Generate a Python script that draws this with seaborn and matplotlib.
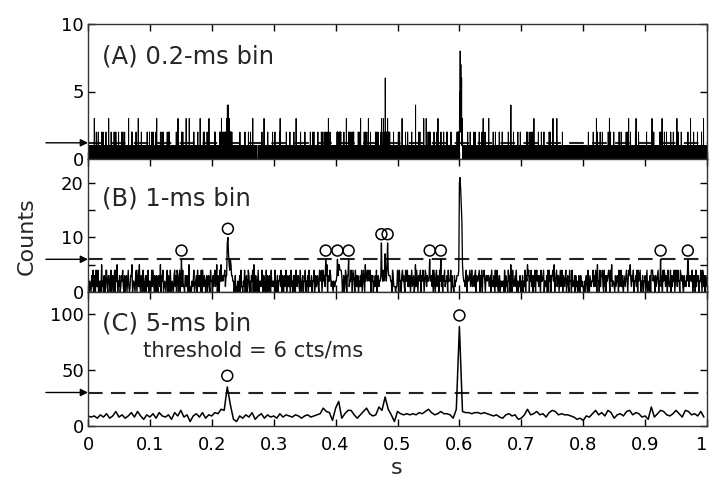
import numpy as np
import pandas as pd
import matplotlib
matplotlib.use("Agg")
import matplotlib.pyplot as plt
import seaborn as sns

# Photon counts of one 1-s trace in 0.2-ms bins; each string holds 20 ms (100 bins)
COUNTS_02MS = [
    "11021 00100 00000 01010 00001 00000 10110 01000 11011 00000 03000 00100 00000 10210 01000 10000 01120 00000 10001 00000",
    "01010 00000 12011 00010 00200 00000 10110 00100 00000 20101 11011 00010 00000 00300 10101 01000 00000 10210 00000 10010",
    "10110 00000 02000 01111 00000 21010 01100 11111 00000 00200 00100 01011 00000 10000 00210 10010 10210 00001 00000 12000",
    "00000 01100 10101 00000 00011 10030 01000 00000 00010 11010 00210 20111 00000 10010 01100 00001 00000 01020 11011 00000",
    "10010 13000 00100 11111 01000 00000 12000 00011 00000 11011 01000 00000 10010 10101 00000 01020 10000 10111 00000 00200",
    "10001 00000 00100 02110 00010 11200 01010 00000 10110 20000 00000 30000 01000 00000 10101 10101 00010 21101 00000 01020",
    "01100 10210 00000 00001 10010 00100 00000 10110 20101 00000 12000 00200 00000 01111 00010 00000 10001 01000 00000 01011",
    "11011 00010 01020 00000 10210 00300 00000 10010 11011 00000 10001 12111 00100 02011 00010 01000 00000 10101 00030 00100",
    "10110 01000 00000 11030 00001 00000 00100 00000 10010 01000 01010 21010 00000 00100 10001 10110 00000 11200 00010 01011",
    "00100 03000 00000 10111 00000 11011 00200 01000 12000 10010 00000 10010 00210 00000 01100 00300 01000 00000 11011 10010",
    "10010 00000 10110 00100 01020 10210 00010 01100 11111 00000 01011 10010 00000 20101 00200 11030 01100 20100 00200 10011",
    "10110 02020 00100 01200 30000 24120 32401 13210 20300 10120 21201 11210 10200 01110 10010 01010 00000 00100 10101 00000",
    "10000 00000 01010 00000 00001 00210 00000 11011 00100 01000 00000 10010 00100 01120 00000 10010 01011 00000 00100 12010",
    "10101 00000 00020 00000 11010 01100 13000 00000 11111 00100 00000 10110 01000 00000 00011 11011 00000 10010 00100 01100",
    "01000 21010 10101 00000 00300 10010 00000 00100 01111 00000 10200 01100 00000 10110 00011 00000 11011 00010 02000 10000",
    "10010 00100 20101 00000 01010 00000 10101 00000 01100 00020 00300 01000 11011 00000 10110 01010 00000 11010 00100 10001",
    "10210 00000 01100 01011 00010 00100 12000 00000 11011 01000 10001 00000 01020 00000 10110 00000 03010 10010 00100 01011",
    "11010 00010 00000 10210 01000 00000 01100 10101 00000 10010 00200 11011 00000 10010 00100 10110 00000 11110 00001 02000",
    "01000 10101 00000 00200 10010 20101 00000 00100 01011 10000 01010 10200 00010 00000 11011 10011 01100 21010 00000 00200",
    "11011 01001 00210 10000 12111 11010 10211 00000 00300 10010 01100 20101 10110 00010 10001 10000 00000 01010 00100 00001",
    "10010 01100 10200 21201 01110 11210 21011 10120 01201 11011 10110 00000 01000 10200 00000 01000 11011 00300 00000 10101",
    "10101 21120 00100 00200 10001 11011 01200 00000 10210 12000 01010 00000 11011 00100 10110 00100 10020 00000 02000 01000",
    "00300 10000 11011 00000 00110 11011 02000 00000 12011 10100 10200 11011 01100 30010 10011 01010 10210 00000 10110 01100",
    "10110 00000 01010 00100 00210 01000 12010 00000 00020 10101 00100 10010 01100 10200 23121 10110 01001 13000 00110 10200",
    "06100 10110 00200 11201 31221 12010 01110 10200 00111 10010 10010 00000 11011 01020 00001 01000 00010 00000 10000 00100",
    "11011 01200 00000 10210 00011 01010 00000 00300 11011 10001 10101 00010 00000 21010 01010 11000 10210 00100 01011 00001",
    "01011 00000 10010 20101 01000 10010 01101 00000 00010 04010 00100 11011 01010 00000 10200 10110 02000 01111 00000 10011",
    "01010 11011 00300 00000 01100 11011 00300 10000 01110 00200 10010 01011 21201 00110 10010 10110 01000 11011 00000 20101",
    "01100 00000 10110 02011 10000 00300 10010 00000 11011 01100 12111 00100 10110 00000 01020 10100 01111 00010 10001 02000",
    "01020 00000 11011 10010 00110 10010 10210 00000 01011 00100 00100 00000 10110 01000 00011 10100 02010 10200 01020 21100",
    "34544 58332 43732 34261 23323 21110 10110 01010 10010 00100 10110 11011 00000 10200 01010 01010 11010 10210 00001 00110",
    "10111 00100 01010 02010 00001 01200 11011 00000 10110 00011 10100 01011 21010 00000 10101 01000 10210 00000 00300 11010",
    "11011 00200 00000 01110 10011 10010 01101 00300 10000 01010 10110 00000 11011 00010 00020 10000 00111 00000 12010 00100",
    "01010 11011 00001 00000 10200 10110 00000 01010 00001 02000 00100 10010 00000 01111 00000 10011 00100 01100 00000 21010",
    "10010 01110 00000 04010 00100 00000 11011 00200 00100 10010 10110 01000 10111 00000 00200 00000 10010 01000 00210 00000",
    "10010 00000 01110 00000 10001 01000 11011 00000 10200 01010 10211 11010 01111 00000 20010 01010 10210 00100 02010 00000",
    "00300 01000 11011 00000 10110 11011 10010 01020 00001 10101 01001 00000 10210 00011 01100 10110 01120 00000 10001 01010",
    "10000 01011 00000 11011 00000 21010 00200 10110 00000 01011 10110 03010 01100 11111 00000 01100 10110 00310 00001 10101",
    "10110 00000 01010 11011 00100 01010 10210 00000 01011 10010 10000 01011 11011 00000 10010 01110 00100 00000 11011 10010",
    "10010 00000 11011 00100 01010 01000 10110 00000 01011 00001 10010 00000 00100 10101 00000 00000 10101 01000 00110 00010",
    "01000 00000 10010 00000 01010 10110 00100 00000 11200 00010 00000 10110 01010 00100 10001 10010 12010 00100 10101 01000",
    "11011 00300 00000 21101 01010 01010 00000 10210 00100 10110 11001 20101 01000 00000 11011 00100 10011 00000 01110 10010",
    "10200 11011 00300 00000 12010 01010 11111 00100 10010 00200 00100 00000 10110 00010 10001 10110 01010 00000 20101 00100",
    "01010 10210 00001 10110 01000 00000 11010 00011 01000 10200 10111 02000 00000 00300 11011 01110 10211 01010 00100 10101",
    "10010 11011 00000 01100 00200 00300 01000 11011 00000 10210 10100 01011 11110 00000 10010 01000 10110 00000 10001 01010",
    "10110 00000 00200 11011 00000 00100 10010 00000 01011 00000 10210 13000 11110 01010 20100 01010 00000 10110 00100 10001",
    "10110 11011 00000 00200 10010 21111 00100 00300 00000 11011 10010 12010 10110 00001 01020 01011 00000 11011 10010 00100",
    "10000 10210 00000 01011 00100 01020 10010 11011 00000 01100 11011 00300 01000 10210 10010 10010 00000 11011 00210 01100",
    "01011 00100 00000 10110 00010 10100 00100 10110 01001 12111 11011 00100 10110 00300 10010 01010 11011 00000 10200 00100",
    "10110 00000 11011 00100 01020 01010 10101 00000 00011 10010 10111 02000 00000 11011 00300 01000 10110 00000 01011 00100",
]

BIN_WIDTHS_MS = [0.2, 1.0, 5.0]
PANEL_TITLES = ["(A) 0.2-ms bin", "(B) 1-ms bin", "(C) 5-ms bin"]
THRESHOLD_CTS_PER_MS = 6
# start times (ms) of the bins flagged as bursts in the 1-ms and 5-ms traces
BURSTS_1MS = [151, 226, 384, 403, 421, 474, 484, 552, 570, 925, 969]
BURSTS_5MS = [225, 600]
X_TICKS = [0, 0.1, 0.2, 0.3, 0.4, 0.5, 0.6, 0.7, 0.8, 0.9, 1.0]
X_TICK_LABELS = ["0", "0.1", "0.2", "0.3", "0.4", "0.5", "0.6", "0.7", "0.8", "0.9", "1"]

# ---- rebin the raw trace -------------------------------------------------
raw = np.array([int(ch) for ch in "".join(COUNTS_02MS) if ch.isdigit()])
raw = raw[: len(raw) // 25 * 25]
traces = [raw, raw.reshape(-1, 5).sum(axis=1), raw.reshape(-1, 25).sum(axis=1)]
frames = []
for counts, w in zip(traces, BIN_WIDTHS_MS):
    frames.append(pd.DataFrame({"s": np.arange(len(counts)) * w / 1000.0, "counts": counts}))

sns.set_style("ticks")
plt.rcParams["font.family"] = ["DejaVu Sans"]
plt.rcParams["axes.linewidth"] = 1.0

W, H = 711, 478
fig = plt.figure(figsize=(W / 100, H / 100), dpi=100)


def ax_rect(left, top, right, bottom):
    return [left / W, 1 - bottom / H, (right - left) / W, (bottom - top) / H]


rects = [ax_rect(88, 24, 707, 159), ax_rect(88, 159, 707, 292), ax_rect(88, 292, 707, 426)]
ylims = [(0, 10), (0, 24.4), (0, 120)]
yticks_major = [[0, 5, 10], [0, 10, 20], [0, 50, 100]]
yticks_minor = [[], [5, 15], []]
line_widths = [0.7, 0.95, 1.1]
title_y = [0.711, 0.654, 0.716]

axes = []
for i in range(3):
    ax = fig.add_axes(rects[i])
    axes.append(ax)
    df = frames[i]
    sns.lineplot(data=df, x="s", y="counts", ax=ax, color="black", lw=line_widths[i],
                 estimator=None, sort=False)
    thr = THRESHOLD_CTS_PER_MS * BIN_WIDTHS_MS[i]
    ax.axhline(thr, color="#222222", lw=1.5, linestyle=(0, (7, 4)), zorder=1)
    ax.annotate("", xy=(0, thr), xycoords=("axes fraction", "data"),
                xytext=(-0.068, thr), textcoords=("axes fraction", "data"),
                arrowprops=dict(arrowstyle="-|>", color="black", lw=1.0, mutation_scale=11,
                                shrinkA=0, shrinkB=0),
                annotation_clip=False)
    ax.set_xlim(0, 1)
    ax.set_ylim(*ylims[i])
    ax.set_xticks(X_TICKS)
    ax.set_yticks(yticks_major[i])
    ax.set_yticks(yticks_minor[i], minor=True)
    ax.tick_params(which="both", direction="in", length=5, width=1.0, top=True, right=True,
                   labelsize=13, colors="black", pad=3)
    if i < 2:
        ax.set_xticklabels([])
    else:
        ax.set_xticklabels(X_TICK_LABELS)
        ax.tick_params(axis="x", pad=7)
        ax.get_xticklabels()[-1].set_horizontalalignment("right")
    ax.set_xlabel("")
    ax.set_ylabel("")
    for sp in ax.spines.values():
        sp.set_visible(True)
        sp.set_color("#333333")
    ax.text(0.0226, title_y[i], PANEL_TITLES[i], transform=ax.transAxes,
            fontsize=17.5, va="baseline", ha="left")

# burst markers
for ax, bursts, w, off, df in [(axes[1], BURSTS_1MS, 1.0, 1.6, frames[1]),
                               (axes[2], BURSTS_5MS, 5.0, 10, frames[2])]:
    idx = (np.array(bursts) / w).astype(int)
    mk = pd.DataFrame({"s": df["s"].values[idx], "y": df["counts"].values[idx] + off})
    sns.scatterplot(data=mk, x="s", y="y", ax=ax, marker="o", s=62, facecolors="none",
                    edgecolor="black", linewidth=1.1, zorder=5)
    ax.set_xlabel("")
    ax.set_ylabel("")

axes[2].text(0.0889, 0.515, "threshold = 6 cts/ms", transform=axes[2].transAxes,
             fontsize=15.2, va="baseline", ha="left")

fig.text(27 / W, 1 - 236 / H, "Counts", rotation=90, ha="center", va="center", fontsize=16)
fig.text(397 / W, 1 - 468 / H, "s", ha="center", va="center", fontsize=16)

fig.savefig("out.png", dpi=100)
